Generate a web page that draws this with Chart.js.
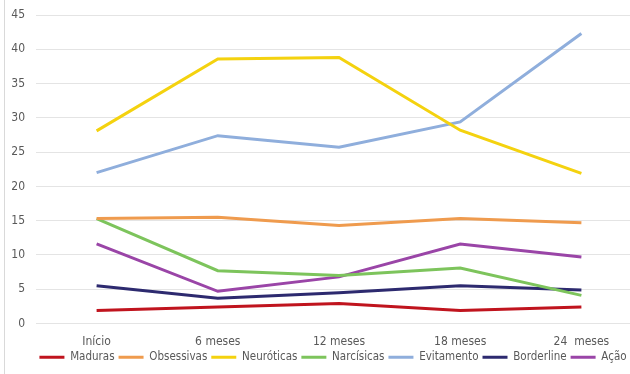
<!DOCTYPE html>
<html>
<head>
<meta charset="utf-8">
<script src="https://cdn.jsdelivr.net/npm/chart.js@4/dist/chart.umd.min.js"></script>
<style>
  html, body { margin: 0; padding: 0; background: #fff; overflow: hidden; }
  #wrap { position: relative; width: 630px; height: 374px; overflow: hidden; }
  #box { position: absolute; left: 0; top: 0; width: 642px; height: 374px; }
</style>
</head>
<body>
<div id="wrap"><div id="box"><canvas id="c"></canvas></div></div>
<script>
const categories = ['Início', '6 meses', '12 meses', '18 meses', '24  meses'];
const yTicks = [0, 5, 10, 15, 20, 25, 30, 35, 40, 45];

const maduras     = [1.9, 2.4, 2.9, 1.9, 2.4];
const obsessivas  = [15.3, 15.5, 14.3, 15.3, 14.7];
const neuroticas  = [28.1, 38.6, 38.8, 28.2, 21.9];
const narcisicas  = [15.3, 7.7, 7.0, 8.1, 4.1];
const evitamento  = [22.0, 27.4, 25.7, 29.4, 42.3];
const borderline  = [5.5, 3.7, 4.5, 5.5, 4.9];
const acao        = [11.6, 4.7, 6.8, 11.6, 9.7];

const seriesNames = ['Maduras', 'Obsessivas', 'Neuróticas', 'Narcísicas', 'Evitamento', 'Borderline', 'Ação'];
const seriesData = [maduras, obsessivas, neuroticas, narcisicas, evitamento, borderline, acao];
const seriesColors = ['#C0141E', '#EF9B4E', '#F4D20F', '#7DC45C', '#8FAEDC', '#2D2A6F', '#9A45A7'];

const FONT = '"DejaVu Sans Condensed", "Liberation Sans Narrow", "Liberation Sans", sans-serif';

// thin frame line down the left side
const frameLine = {
  id: 'frameLine',
  beforeDraw(chart) {
    const ctx = chart.ctx;
    ctx.save();
    ctx.strokeStyle = '#d9d9d9';
    ctx.lineWidth = 1;
    ctx.beginPath();
    ctx.moveTo(4.5, 0);
    ctx.lineTo(4.5, chart.height);
    ctx.stroke();
    ctx.restore();
  }
};

// nudge the legend row to the right so it sits centred under the plot
const legendShift = {
  id: 'legendShift',
  afterLayout(chart) {
    const lg = chart.legend;
    if (!lg) return;
    lg.left += 12;
    lg.right += 12;
  }
};

new Chart(document.getElementById('c'), {
  type: 'line',
  data: {
    labels: categories,
    datasets: seriesNames.map((name, i) => ({
      label: name,
      data: seriesData[i],
      borderColor: seriesColors[i],
      backgroundColor: seriesColors[i],
      borderWidth: 3,
      pointRadius: 0,
      pointHoverRadius: 0,
      tension: 0,
      fill: false,
      pointStyle: 'line'
    }))
  },
  plugins: [frameLine, legendShift],
  options: {
    responsive: true,
    maintainAspectRatio: false,
    animation: false,
    devicePixelRatio: 1,
    layout: { padding: { top: 15, left: 0, right: 0, bottom: 1 } },
    plugins: {
      tooltip: { enabled: false },
      legend: {
        position: 'bottom',
        labels: {
          usePointStyle: true,
          pointStyleWidth: 25,
          boxHeight: 11,
          padding: 4,
          color: '#595959',
          font: { family: FONT, size: 11.5 }
        }
      }
    },
    scales: {
      x: {
        offset: true,
        grid: { display: false, drawTicks: false },
        border: { display: false },
        ticks: {
          color: '#595959',
          padding: 11,
          maxRotation: 0,
          font: { family: FONT, size: 12 }
        },
        afterFit(scale) { scale.height = 24; }
      },
      y: {
        min: 0,
        max: 45,
        afterBuildTicks(scale) { scale.ticks = yTicks.map(v => ({ value: v })); },
        grid: { color: '#e4e4e4', lineWidth: 1, drawTicks: false },
        border: { display: false },
        ticks: {
          color: '#595959',
          padding: 11,
          font: { family: FONT, size: 12 }
        },
        afterFit(scale) {
          scale.width = 36;
          scale.paddingTop = 0;
          scale.paddingBottom = 0;
        }
      }
    }
  }
});
</script>
</body>
</html>
